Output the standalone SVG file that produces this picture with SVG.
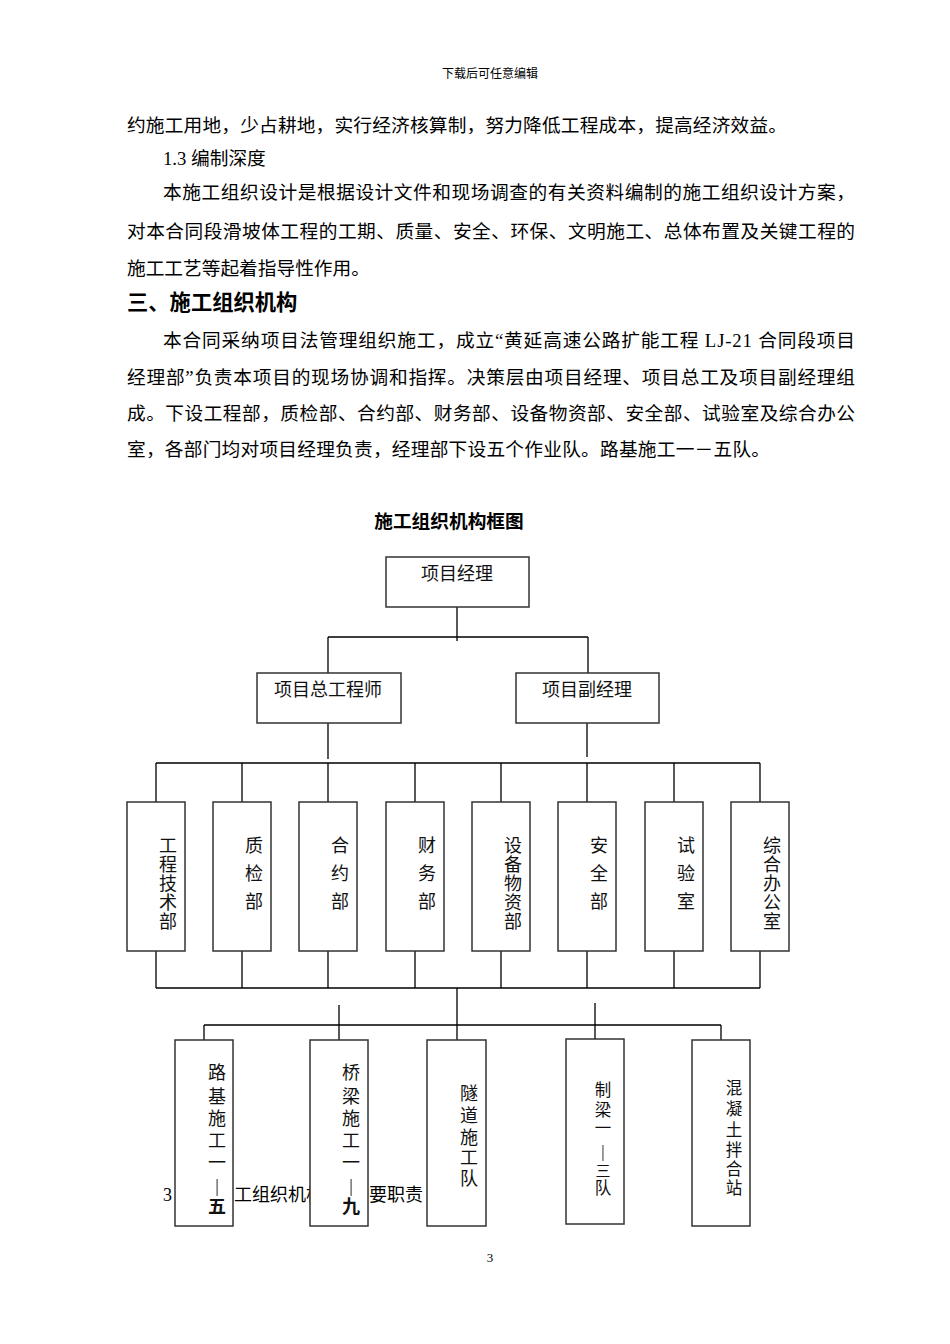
<svg xmlns="http://www.w3.org/2000/svg" width="950" height="1344" viewBox="0 0 950 1344">
<style>
.t{font-family:"Liberation Serif","Noto Sans CJK SC",serif;fill:#000}
.b{font-size:18.7px}
.lab{font-family:"Liberation Serif","Noto Sans CJK SC",serif;font-size:18px;fill:#111;text-anchor:middle}
.sm{font-size:16.5px}
.box{fill:#fff;stroke:#333;stroke-width:1.5}
.ln{stroke:#000;stroke-width:1.3;fill:none}
</style>
<rect width="950" height="1344" fill="#fff"/>
<g id="page-text">
<text class="t" x="490" y="78" font-size="12" text-anchor="middle">下载后可任意编辑</text>
<text class="t b" x="127" y="132" textLength="660" lengthAdjust="spacing">约施工用地，少占耕地，实行经济核算制，努力降低工程成本，提高经济效益。</text>
<text class="t b" x="163" y="165">1.3 编制深度</text>
<text class="t b" x="163" y="199" textLength="692" lengthAdjust="spacing">本施工组织设计是根据设计文件和现场调查的有关资料编制的施工组织设计方案，</text>
<text class="t b" x="127" y="238" textLength="728" lengthAdjust="spacing">对本合同段滑坡体工程的工期、质量、安全、环保、文明施工、总体布置及关键工程的</text>
<text class="t b" x="127" y="275">施工工艺等起着指导性作用。</text>
<text class="t" x="127" y="310" font-size="21.3" font-weight="bold">三、施工组织机构</text>
<text class="t b" x="163" y="347" textLength="692" lengthAdjust="spacing">本合同采纳项目法管理组织施工，成立“黄延高速公路扩能工程 LJ-21 合同段项目</text>
<text class="t b" x="127" y="384" textLength="728" lengthAdjust="spacing">经理部”负责本项目的现场协调和指挥。决策层由项目经理、项目总工及项目副经理组</text>
<text class="t b" x="127" y="420" textLength="728" lengthAdjust="spacing">成。下设工程部，质检部、合约部、财务部、设备物资部、安全部、试验室及综合办公</text>
<text class="t b" x="127" y="456" textLength="643" lengthAdjust="spacing">室，各部门均对项目经理负责，经理部下设五个作业队。路基施工一－五队。</text>
<text class="t" x="449" y="528" font-size="18.7" font-weight="bold" text-anchor="middle">施工组织机构框图</text>
<text class="t" x="163" y="1201" font-size="18">3</text>
<text class="t" x="234" y="1201" font-size="18" textLength="90" lengthAdjust="spacing">工组织机构</text>
<text class="t" x="369" y="1201" font-size="18">要职责</text>
<text class="t" x="490" y="1262" font-size="13" text-anchor="middle">3</text>
</g>
<g id="connectors">
<path class="ln" d="M457 607V641M328 637H588M328 637V673M588 637V673"/>
<path class="ln" d="M328 723V759M587 723V757"/>
<path class="ln" d="M156 763H760M156 763V802M242 763V802M328 763V802M415 763V802M501 763V802M587 763V802M674 763V802M760 763V802"/>
<path class="ln" d="M156 951V988M242 951V988M328 951V988M415 951V988M501 951V988M587 951V988M674 951V988M760 951V988M156 988H760"/>
<path class="ln" d="M457 988V1040M204 1025H721M204 1025V1040M339 1005V1040M595 1003V1039M721 1025V1040"/>
</g>
<g id="n-pm"><rect class="box" x="386" y="557" width="143" height="50"/><text class="lab" x="457" y="579.5" font-size="18.7">项目经理</text></g>
<g id="n-chief"><rect class="box" x="257" y="673" width="144" height="50"/><text class="lab" x="328" y="695.5" font-size="18.7">项目总工程师</text></g>
<g id="n-deputy"><rect class="box" x="516" y="673" width="143" height="50"/><text class="lab" x="587" y="695.5" font-size="18.7">项目副经理</text></g>
<g id="d1"><rect class="box" x="127" y="802" width="58" height="149"/><text class="lab"><tspan x="168" y="851.5">工</tspan><tspan x="168" y="870.5">程</tspan><tspan x="168" y="889.5">技</tspan><tspan x="168" y="908.5">术</tspan><tspan x="168" y="927.5">部</tspan></text></g>
<g id="d2"><rect class="box" x="213" y="802" width="58" height="149"/><text class="lab"><tspan x="254" y="851.5">质</tspan><tspan x="254" y="879.5">检</tspan><tspan x="254" y="907.5">部</tspan></text></g>
<g id="d3"><rect class="box" x="299" y="802" width="58" height="149"/><text class="lab"><tspan x="340" y="851.5">合</tspan><tspan x="340" y="879.5">约</tspan><tspan x="340" y="907.5">部</tspan></text></g>
<g id="d4"><rect class="box" x="386" y="802" width="58" height="149"/><text class="lab"><tspan x="427" y="851.5">财</tspan><tspan x="427" y="879.5">务</tspan><tspan x="427" y="907.5">部</tspan></text></g>
<g id="d5"><rect class="box" x="472" y="802" width="58" height="149"/><text class="lab"><tspan x="513" y="851.5">设</tspan><tspan x="513" y="870.5">备</tspan><tspan x="513" y="889.5">物</tspan><tspan x="513" y="908.5">资</tspan><tspan x="513" y="927.5">部</tspan></text></g>
<g id="d6"><rect class="box" x="558" y="802" width="58" height="149"/><text class="lab"><tspan x="599" y="851.5">安</tspan><tspan x="599" y="879.5">全</tspan><tspan x="599" y="907.5">部</tspan></text></g>
<g id="d7"><rect class="box" x="645" y="802" width="58" height="149"/><text class="lab"><tspan x="686" y="851.5">试</tspan><tspan x="686" y="879.5">验</tspan><tspan x="686" y="907.5">室</tspan></text></g>
<g id="d8"><rect class="box" x="731" y="802" width="58" height="149"/><text class="lab"><tspan x="772" y="851.5">综</tspan><tspan x="772" y="870.5">合</tspan><tspan x="772" y="889.5">办</tspan><tspan x="772" y="908.5">公</tspan><tspan x="772" y="927.5">室</tspan></text></g>
<g id="t1"><rect class="box" x="175" y="1040" width="58" height="186"/><text class="lab"><tspan x="217" y="1078.5">路</tspan><tspan x="217" y="1102.5">基</tspan><tspan x="217" y="1124.5">施</tspan><tspan x="217" y="1146.5">工</tspan><tspan x="217" y="1168.5">一</tspan><tspan x="217" y="1192">|</tspan><tspan x="217" y="1212.5" font-weight="bold">五</tspan></text></g>
<g id="t2"><rect class="box" x="310" y="1040" width="58" height="186"/><text class="lab"><tspan x="351" y="1078.5">桥</tspan><tspan x="351" y="1102.5">梁</tspan><tspan x="351" y="1124.5">施</tspan><tspan x="351" y="1146.5">工</tspan><tspan x="351" y="1168.5">一</tspan><tspan x="351" y="1192">|</tspan><tspan x="351" y="1212.5" font-weight="bold">九</tspan></text></g>
<g id="t3"><rect class="box" x="427" y="1040" width="59" height="186"/><text class="lab"><tspan x="469" y="1099.5">隧</tspan><tspan x="469" y="1121.5">道</tspan><tspan x="469" y="1143.5">施</tspan><tspan x="469" y="1164">工</tspan><tspan x="469" y="1185">队</tspan></text></g>
<g id="t4"><rect class="box" x="566" y="1039" width="58" height="185"/><text class="lab sm"><tspan x="603" y="1096">制</tspan><tspan x="603" y="1116">梁</tspan><tspan x="603" y="1134">一</tspan><tspan x="603" y="1157">|</tspan><tspan x="603" y="1176" font-size="15">三</tspan><tspan x="603" y="1194">队</tspan></text></g>
<g id="t5"><rect class="box" x="692" y="1040" width="58" height="186"/><text class="lab sm"><tspan x="734" y="1094">混</tspan><tspan x="734" y="1115">凝</tspan><tspan x="734" y="1136">土</tspan><tspan x="734" y="1156">拌</tspan><tspan x="734" y="1175">合</tspan><tspan x="734" y="1194">站</tspan></text></g>
</svg>
